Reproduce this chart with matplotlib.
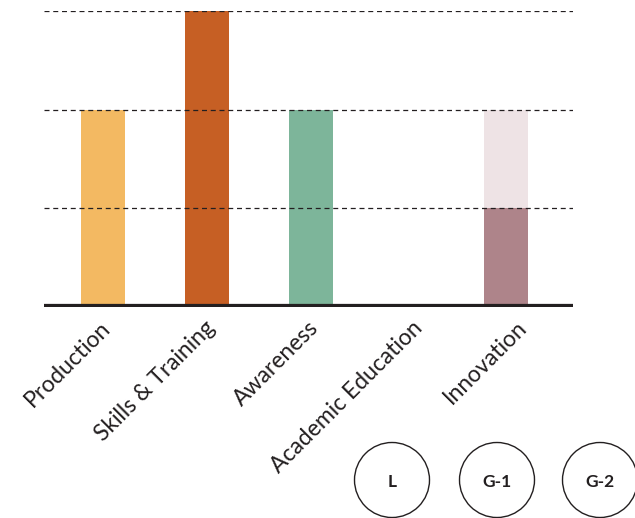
import matplotlib.pyplot as plt
from matplotlib.patches import Circle
import numpy as np

categories = ['Production', 'Skills & Training', 'Awareness', 'Academic Education', 'Innovation']
values_low = [2, 3, 2, 0, 1]
values_high = [0, 0, 0, 0, 1]
colors_low = ['#F3B962', '#C65F24', '#7DB59A', '#FFFFFF', '#AE848A']
colors_high = ['#F3B962', '#C65F24', '#7DB59A', '#FFFFFF', '#EEE3E5']
badges = ['L', 'G-1', 'G-2']

# layout (bar centres and label anchors in axis units)
bar_x = np.array([0, 1, 2, 3, 3.875])
label_x = np.arange(len(categories)) - 0.03

fig = plt.figure(figsize=(6.35, 5.18), dpi=100)
ax = fig.add_axes([44 / 635, 1 - 307 / 518, 529 / 635, 296 / 518])

ax.bar(bar_x, values_low, width=0.42, color=colors_low, zorder=2)
ax.bar(bar_x, values_high, bottom=values_low, width=0.42, color=colors_high, zorder=2)

for yv in [1, 2, 3]:
    ax.axhline(yv, color='#231F20', lw=0.9, ls=(0, (4, 3)), zorder=3)
ax.axhline(0, color='#231F20', lw=4.5, zorder=4, solid_capstyle='butt')

ax.set_xlim(-0.567, 4.52)
ax.set_ylim(0, 3)
for s in ax.spines.values():
    s.set_visible(False)
ax.set_xticks([])
ax.set_yticks([])
ax.patch.set_alpha(0)

for lx, lab in zip(label_x, categories):
    ax.text(lx, -0.1, lab, rotation=45, ha='right', va='top', rotation_mode='anchor',
            fontsize=16.5, family='Lato', color='#231F20')

# badges
ov = fig.add_axes([0, 0, 1, 1])
ov.set_xlim(0, 635)
ov.set_ylim(518, 0)
ov.axis('off')
ov.patch.set_alpha(0)
for cx, b in zip([392, 497, 600], badges):
    ov.add_patch(Circle((cx, 480), 37.5, fill=False, ec='#231F20', lw=1))
    ov.text(cx, 482, b, ha='center', va='center', fontsize=12.5, fontweight='bold',
            family='Lato', color='#231F20')

fig.savefig('out.png', dpi=100)
